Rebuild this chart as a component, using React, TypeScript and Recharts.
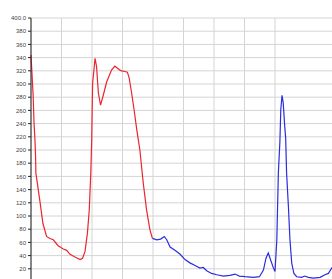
import { LineChart, Line, XAxis, YAxis, CartesianGrid } from 'recharts';

// x positions are in grid units (one vertical gridline every 10)
const redX = [0, 0.3, 0.7, 1.0, 1.3, 1.5, 1.6, 3.0, 3.9, 5.1, 6.2, 7.3, 8.9, 10.6, 11.7, 12.8, 14.4, 16.1, 16.9, 17.7, 18.5, 19.1, 19.6, 19.9, 20.2, 21.0, 21.5, 22.1, 22.8, 23.7, 24.8, 26.4, 27.5, 29.2, 29.7, 30.8, 31.6, 32.2, 33.0, 33.8, 34.7, 35.2, 35.7, 36.8, 37.9, 39.0, 39.8];
const redY = [344, 318, 283, 240, 215, 190, 165, 120, 89, 69, 66, 64, 55, 50, 48, 42, 38, 34, 36, 46, 74, 109, 165, 214, 301, 339, 326, 286, 268, 283, 303, 321, 327, 321, 320, 319, 318, 309, 286, 261, 230, 215, 200, 150, 109, 79, 66];

const blueX = [39.8, 41.2, 42.5, 43.7, 44.5, 45.6, 47.2, 48.9, 50.5, 52.1, 53.8, 55.4, 56.5, 57.6, 59.2, 60.9, 63.1, 65.2, 66.9, 68.3, 70.2, 72.9, 74.9, 76.2, 77.05, 77.8, 78.6, 79.5, 80.0, 80.6, 81.1, 81.6, 81.9, 82.3, 82.7, 83.2, 83.5, 83.8, 84.4, 84.9, 85.5, 86.2, 87.1, 88.7, 89.8, 90.9, 92.6, 94.8, 96.4, 97.5, 98.6, 100];
const blueY = [66, 64, 65, 69, 64, 53, 48, 42, 34, 29, 25, 21, 22, 17, 13, 11, 9, 10, 12, 9, 8, 7, 8, 18, 36, 44, 33, 21, 16, 64, 165, 212, 261, 283, 271, 235, 218, 165, 114, 64, 28, 13, 8, 7, 9, 7, 6, 7, 11, 13, 21, 30];

const yTicks = [0, 20, 40, 60, 80, 100, 120, 140, 160, 180, 200, 220, 240, 260, 280, 300, 320, 340, 360, 380, 400];
const xTicks = [0, 10, 20, 30, 40, 50, 60, 70, 80, 90, 100];

const redData = redX.map((x, i) => ({ x, v: redY[i] }));
const blueData = blueX.map((x, i) => ({ x, v: blueY[i] }));

export default function App() {
  return (
    <div style={{ position: 'absolute', left: 0, top: 0, width: 332, height: 279, overflow: 'hidden', background: '#fff' }}>
      <LineChart width={340} height={292} margin={{ top: 18, right: 4, left: 0, bottom: 10 }}>
        <CartesianGrid stroke="#d4d4d4" strokeWidth={1} />
        <XAxis type="number" dataKey="x" domain={[0, 100]} ticks={xTicks} hide allowDuplicatedCategory={false} />
        <YAxis
          type="number"
          domain={[0, 400]}
          ticks={yTicks}
          width={31}
          interval={0}
          axisLine={{ stroke: '#222' }}
          tickLine={{ stroke: '#222' }}
          tickSize={3}
          tickMargin={2}
          tickFormatter={(v: number) => (v === 400 ? '400.0' : String(v))}
          tick={{ fontSize: 6, fill: '#444', fontFamily: 'Liberation Sans, Arial, sans-serif' }}
        />
        <Line data={redData} dataKey="v" type="linear" stroke="#e8262e" strokeWidth={1.2} dot={false} isAnimationActive={false} />
        <Line data={blueData} dataKey="v" type="linear" stroke="#2c2ce0" strokeWidth={1.2} dot={false} isAnimationActive={false} />
      </LineChart>
    </div>
  );
}
